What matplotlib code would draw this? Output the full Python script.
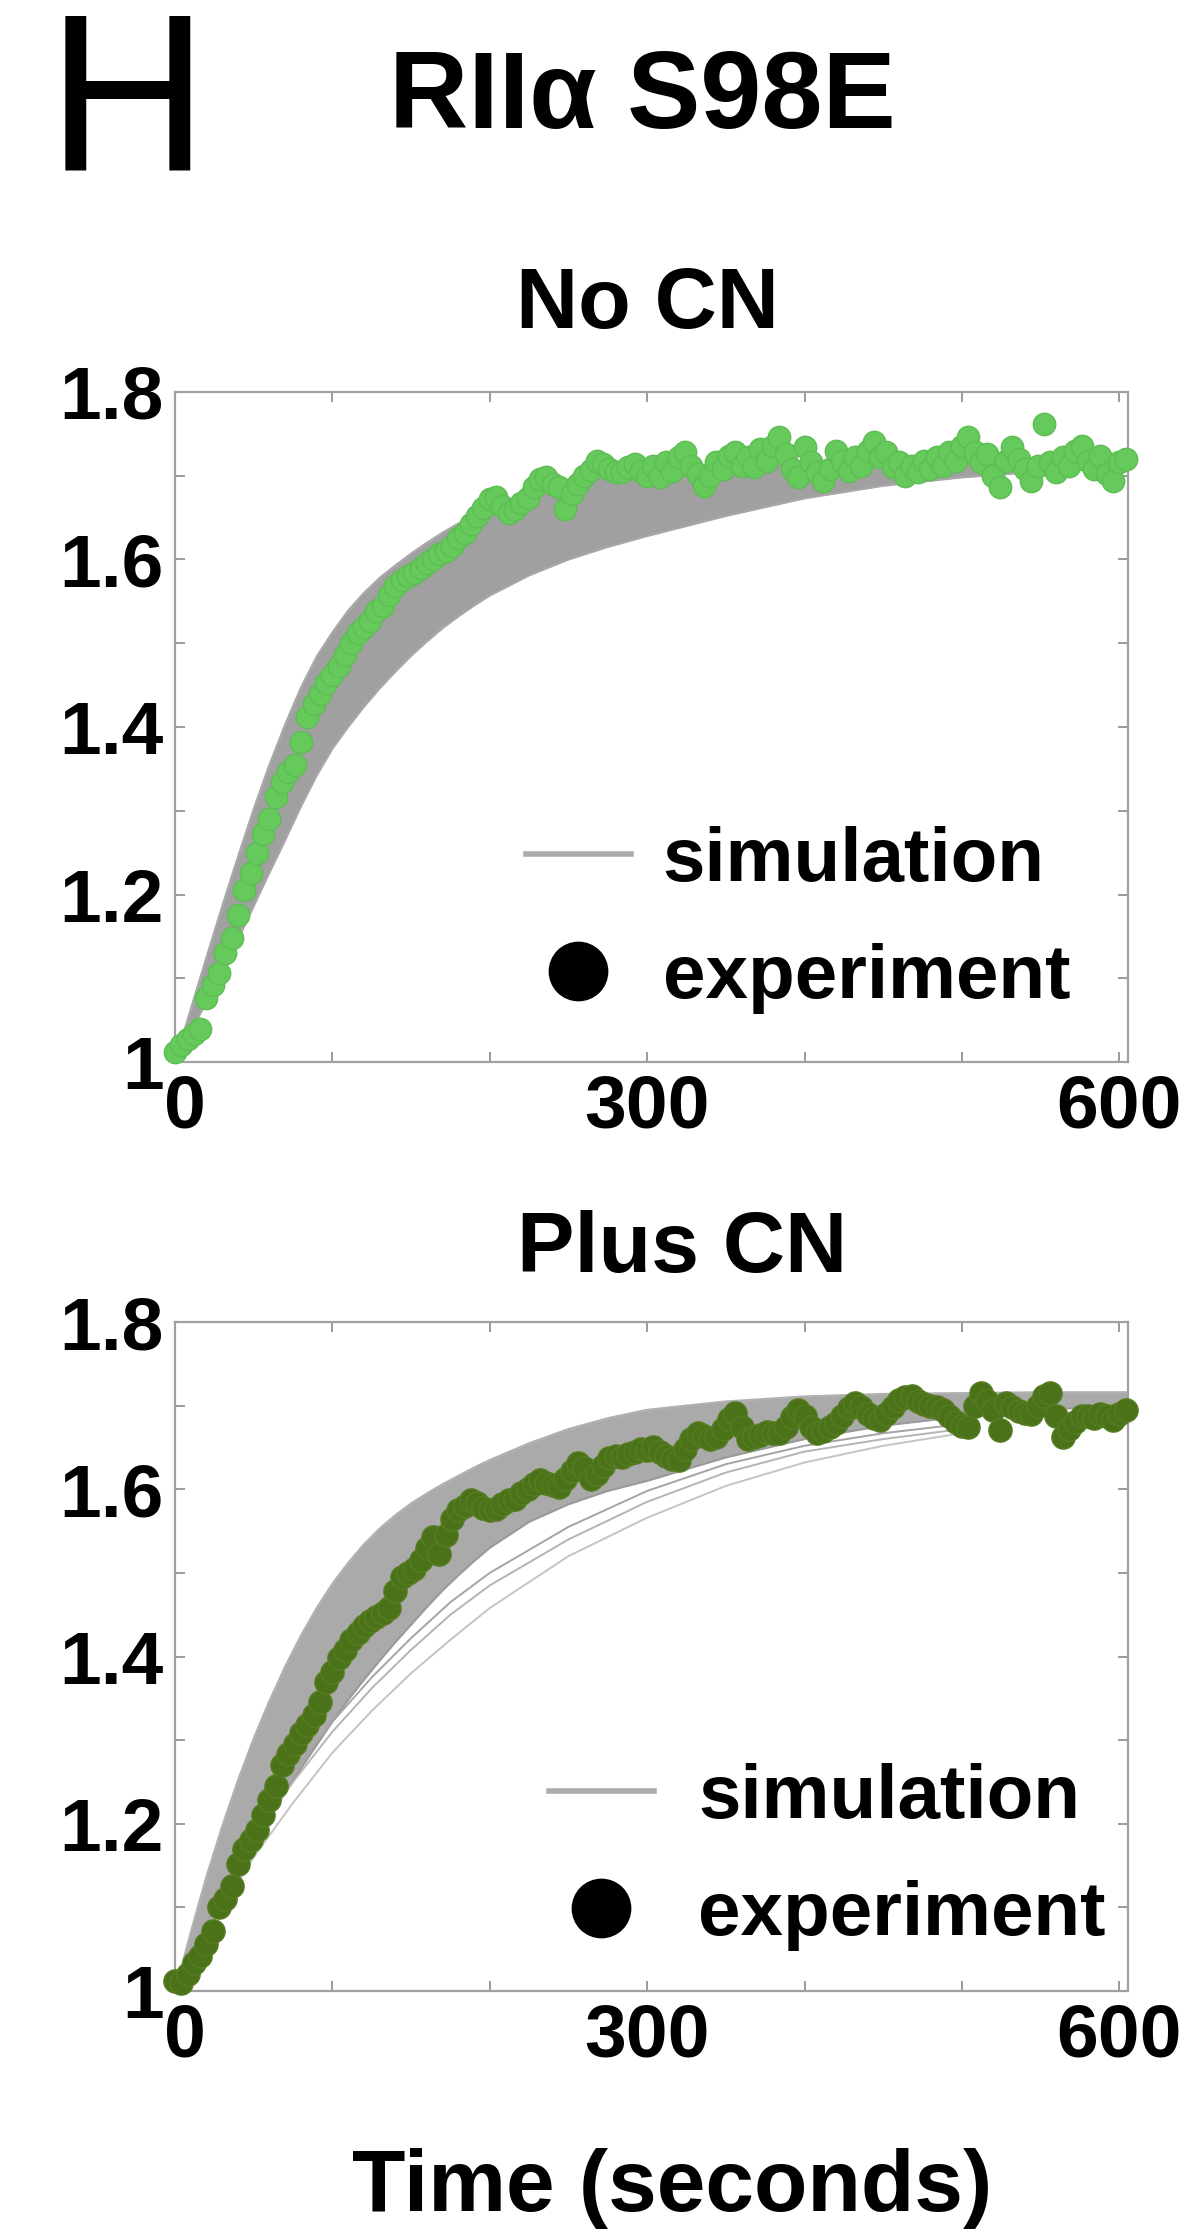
import numpy as np
import matplotlib
matplotlib.use("Agg")
import matplotlib.pyplot as plt
from matplotlib.lines import Line2D
from matplotlib.ticker import FixedLocator
from matplotlib.font_manager import FontProperties
from matplotlib.transforms import ScaledTranslation

plt.rcParams['font.family'] = ['Liberation Sans', 'DejaVu Sans']
plt.rcParams['font.weight'] = 'bold'

# ---------------- data ----------------
dt_exp = 4  # seconds between experimental samples

# No CN experiment (fluorescence ratio), samples every 4 s starting at 0
exp_nocn = [
    1.012, 1.020, 1.028, 1.034, 1.040, 1.076, 1.092, 1.106, 1.130, 1.148,
    1.175, 1.205, 1.226, 1.250, 1.272, 1.290, 1.316, 1.334, 1.346, 1.355,
    1.382, 1.412, 1.428, 1.440, 1.452, 1.462, 1.473, 1.486, 1.500, 1.512,
    1.519, 1.527, 1.538, 1.545, 1.558, 1.568, 1.575, 1.580, 1.584, 1.590,
    1.596, 1.600, 1.606, 1.610, 1.616, 1.626, 1.632, 1.642, 1.652, 1.662,
    1.672, 1.675, 1.664, 1.655, 1.660, 1.668, 1.674, 1.686, 1.696, 1.698,
    1.690, 1.686, 1.660, 1.678, 1.690, 1.700, 1.707, 1.718, 1.714, 1.708,
    1.705, 1.704, 1.710, 1.714, 1.706,
    1.700, 1.712, 1.698, 1.716, 1.706, 1.722, 1.728, 1.712, 1.702, 1.688,
    1.700, 1.716, 1.708, 1.724, 1.728, 1.712, 1.722, 1.710, 1.732, 1.718,
    1.736, 1.746, 1.726, 1.708, 1.698, 1.734, 1.716, 1.704, 1.694, 1.708,
    1.730, 1.718, 1.706, 1.722, 1.712, 1.730, 1.740, 1.722, 1.728, 1.710,
    1.716, 1.700, 1.712, 1.704, 1.718, 1.708, 1.722, 1.712, 1.728, 1.718,
    1.736, 1.746, 1.728, 1.716, 1.726, 1.700, 1.687, 1.718, 1.734, 1.720,
    1.708, 1.694, 1.712, 1.762, 1.716, 1.704, 1.722, 1.712, 1.730, 1.736,
    1.718, 1.708, 1.724, 1.702, 1.694, 1.716, 1.720,
]

# Plus CN experiment
exp_pluscn = [
    1.012, 1.010, 1.020, 1.034, 1.042, 1.056, 1.072, 1.100, 1.110, 1.125,
    1.152, 1.170, 1.180, 1.193, 1.210, 1.228, 1.245, 1.270, 1.283, 1.295,
    1.308, 1.318, 1.330, 1.345, 1.370, 1.382, 1.398, 1.408, 1.420, 1.428,
    1.436, 1.443, 1.447, 1.452, 1.458, 1.478, 1.495, 1.500, 1.505, 1.515,
    1.530, 1.543, 1.522, 1.545, 1.565, 1.575, 1.580, 1.587, 1.584, 1.578,
    1.575, 1.576, 1.582, 1.587, 1.588, 1.595, 1.600, 1.606, 1.611, 1.608,
    1.605, 1.603, 1.612, 1.622, 1.631, 1.625, 1.612, 1.618, 1.628, 1.637,
    1.640, 1.638, 1.642, 1.645, 1.648, 1.647, 1.651, 1.645, 1.640, 1.636,
    1.635, 1.648, 1.660, 1.667, 1.664, 1.660, 1.663, 1.672, 1.684, 1.691,
    1.675, 1.660, 1.662, 1.665, 1.668, 1.667, 1.667, 1.675, 1.686, 1.695,
    1.688, 1.675, 1.667, 1.670, 1.675, 1.679, 1.688, 1.697, 1.703, 1.698,
    1.690, 1.685, 1.683, 1.690, 1.698, 1.707, 1.710, 1.711, 1.706, 1.702,
    1.699, 1.698, 1.695, 1.688, 1.680, 1.676, 1.675, 1.700, 1.715, 1.706,
    1.695, 1.671, 1.703, 1.698, 1.693, 1.691, 1.690, 1.700, 1.712, 1.715,
    1.688, 1.663, 1.672, 1.680, 1.687, 1.687, 1.685, 1.690, 1.688, 1.683,
    1.690, 1.695,
]

# Simulation ensemble envelopes (upper / lower edge of the grey band)
sim_t = [0, 10, 20, 30, 40, 50, 60, 70, 80, 90, 100, 110, 120, 130, 140, 150,
         160, 170, 180, 190, 200, 225, 250, 275, 300, 350, 400, 450, 500, 550, 605]
sim_nocn_upper = [1.000, 1.063, 1.125, 1.186, 1.245, 1.302, 1.355, 1.403, 1.447, 1.484,
                  1.513, 1.539, 1.560, 1.578, 1.593, 1.607, 1.620, 1.632, 1.643, 1.653,
                  1.662, 1.680, 1.692, 1.700, 1.706, 1.713, 1.717, 1.719, 1.720, 1.720,
                  1.720]
sim_nocn_lower = [1.000, 1.036, 1.072, 1.108, 1.146, 1.186, 1.226, 1.265, 1.305, 1.342,
                  1.374, 1.400, 1.424, 1.446, 1.466, 1.485, 1.502, 1.518, 1.532, 1.545,
                  1.557, 1.581, 1.600, 1.615, 1.628, 1.652, 1.673, 1.688, 1.698, 1.705,
                  1.710]
sim_pluscn_upper = [1.000, 1.070, 1.137, 1.197, 1.252, 1.302, 1.347, 1.388, 1.425, 1.458,
                    1.487, 1.512, 1.534, 1.553, 1.569, 1.583, 1.595, 1.606, 1.616, 1.626,
                    1.635, 1.655, 1.672, 1.685, 1.695, 1.705, 1.711, 1.714, 1.715, 1.716,
                    1.716]
sim_pluscn_lower = [1.000, 1.034, 1.068, 1.102, 1.137, 1.173, 1.207, 1.238, 1.266, 1.294,
                    1.322, 1.348, 1.372, 1.395, 1.417, 1.438, 1.459, 1.479, 1.497, 1.514,
                    1.530, 1.561, 1.582, 1.598, 1.610, 1.638, 1.660, 1.676, 1.687, 1.695,
                    1.700]

# a few slower simulation runs that fall below the band (Plus CN)
out_t = [0, 25, 50, 75, 100, 125, 150, 175, 200, 250, 300, 350, 400, 450, 500]
out_runs = [
    [1.0, 1.085, 1.160, 1.225, 1.285, 1.335, 1.380, 1.420, 1.458, 1.520, 1.566, 1.604, 1.632, 1.652, 1.667],
    [1.0, 1.095, 1.180, 1.250, 1.310, 1.362, 1.408, 1.450, 1.485, 1.540, 1.585, 1.620, 1.645, 1.660, 1.672],
    [1.0, 1.100, 1.190, 1.262, 1.322, 1.375, 1.422, 1.465, 1.500, 1.555, 1.598, 1.630, 1.652, 1.667, 1.678],
]

x_major = [0, 300, 600]
x_major_labels = ['0', '300', '600']
x_minor = [100, 200, 400, 500]
y_major = [1.0, 1.2, 1.4, 1.6, 1.8]
y_major_labels = ['1', '1.2', '1.4', '1.6', '1.8']
y_minor = [1.1, 1.3, 1.5, 1.7]

legend_labels = ['simulation', 'experiment']

# ---------------- figure ----------------
W, H = 1201, 2234
fig = plt.figure(figsize=(W / 100, H / 100), dpi=100)


def fx(px):
    return px / W


def fy(py):
    return 1 - py / H


def make_axes(top, bottom):
    ax = fig.add_axes([fx(175), fy(bottom), (1128 - 175) / W, (bottom - top) / H])
    ax.set_xlim(0, 605.5)
    ax.set_ylim(1.0, 1.8)
    ax.xaxis.set_major_locator(FixedLocator(x_major))
    ax.set_xticklabels(x_major_labels)
    ax.xaxis.set_minor_locator(FixedLocator(x_minor))
    ax.yaxis.set_major_locator(FixedLocator(y_major))
    ax.set_yticklabels(y_major_labels)
    ax.yaxis.set_minor_locator(FixedLocator(y_minor))
    ax.tick_params(which='both', direction='in', length=7, width=1.2,
                   color='#8a8a8a', top=True, right=True)
    ax.tick_params(which='major', labelsize=54, pad=8)
    for lab in ax.get_xticklabels() + ax.get_yticklabels():
        lab.set_fontweight('bold')
    for sp in ax.spines.values():
        sp.set_color('#a0a0a0')
        sp.set_linewidth(1.6)
    # the "0" label sits slightly right of its tick in the original
    t0 = ax.xaxis.get_major_ticks()[0]
    t0.label1.set_transform(t0.label1.get_transform()
                            + ScaledTranslation(10 / 100, 0, fig.dpi_scale_trans))
    return ax


ax1 = make_axes(392, 1062)
ax2 = make_axes(1322, 1991)

band_col1 = '#a0a0a0'
band_col2 = '#aaaaaa'

ax1.fill_between(sim_t, sim_nocn_lower, sim_nocn_upper, color=band_col1, lw=0, zorder=1)
ax1.plot(sim_t, sim_nocn_upper, color='#a8a8a8', lw=1.5, zorder=1)
ax1.plot(sim_t, sim_nocn_lower, color='#a8a8a8', lw=1.5, zorder=1)

ax2.fill_between(sim_t, sim_pluscn_lower, sim_pluscn_upper, color=band_col2, lw=0, zorder=1)
ax2.plot(sim_t, sim_pluscn_upper, color='#b0b0b0', lw=1.5, zorder=1)
ax2.plot(sim_t, sim_pluscn_lower, color='#9a9a9a', lw=1.5, zorder=1)
for i, run in enumerate(out_runs):
    ax2.plot(out_t, run, color=['#c4c4c4', '#b4b4b4', '#a4a4a4'][i], lw=1.4, zorder=1)

t1 = np.arange(len(exp_nocn)) * dt_exp
t2 = np.arange(len(exp_pluscn)) * dt_exp
ax1.scatter(t1, exp_nocn, s=260, color='#66c95c', edgecolors='#5dbd53',
            linewidths=1, zorder=3, clip_on=False)
ax2.scatter(t2, exp_pluscn, s=280, color='#4b7119', edgecolors='#557d22',
            linewidths=1, zorder=3, clip_on=False)

legprop = FontProperties(family=['Liberation Sans', 'DejaVu Sans'], weight='bold', size=55)


def add_legend(ax, left_px, top_px, textpad):
    h1 = Line2D([], [], color='#acacac', lw=4)
    h2 = Line2D([], [], color='black', marker='o', ls='none', markersize=42)
    ax.legend([h1, h2], legend_labels, loc='upper left',
              bbox_to_anchor=(fx(left_px), fy(top_px)), bbox_transform=fig.transFigure,
              frameon=False, prop=legprop, handlelength=1.37, handletextpad=textpad,
              labelspacing=0.6, borderpad=0, borderaxespad=0)


add_legend(ax1, 526, 826, 0.42)
add_legend(ax2, 549, 1763, 0.58)

# ---------------- texts ----------------
fig.text(fx(47), fy(170), 'H', fontsize=161, fontweight='normal', ha='left', va='baseline')
fig.text(fx(642), fy(128), 'RIIα S98E', fontsize=79, fontweight='bold', ha='center', va='baseline')
fig.text(fx(647), fy(328), 'No CN', fontsize=62, fontweight='bold', ha='center', va='baseline')
fig.text(fx(682), fy(1272), 'Plus CN', fontsize=62, fontweight='bold', ha='center', va='baseline')
fig.text(fx(672), fy(2211), 'Time (seconds)', fontsize=63, fontweight='bold', ha='center', va='baseline')

fig.savefig('out.png', dpi=100)
